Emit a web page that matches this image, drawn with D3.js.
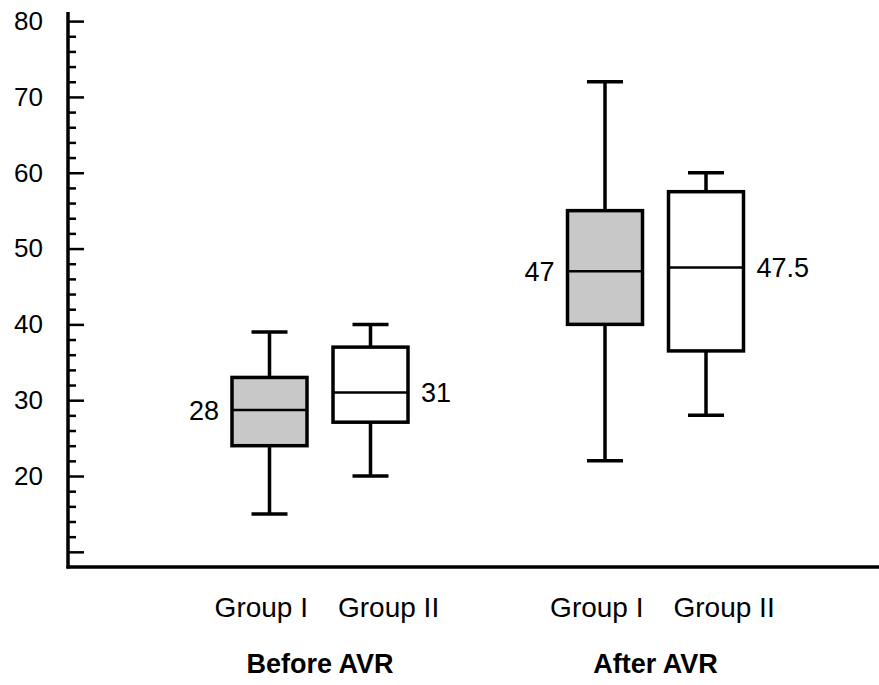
<!DOCTYPE html>
<meta charset="utf-8">
<script src="https://d3js.org/d3.v7.min.js"></script>
<style>
body { margin: 0; background: white; }
text { font-family: "Liberation Sans", Arial, Helvetica, sans-serif; fill: #000; }
</style>
<div id="my_dataviz"></div>
<script>

// data
var periods = ["Before AVR", "After AVR"];
var groups = ["Group I", "Group II"];
var boxPeriod = ["Before AVR", "Before AVR", "After AVR", "After AVR"];
var boxGroup = ["Group I", "Group II", "Group I", "Group II"];
var minVals = [15, 20, 22, 28];
var q1Vals = [24, 27.1, 40, 36.5];
var medianVals = [28.7, 31, 47, 47.5];
var q3Vals = [33, 37, 55, 57.5];
var maxVals = [39, 40, 72, 60];
var medianLabels = ["28", "31", "47", "47.5"];
var boxFill = ["#c8c8c8", "#ffffff", "#c8c8c8", "#ffffff"];

var majorTicks = [10, 20, 30, 40, 50, 60, 70, 80];
var tickLabels = ["", "20", "30", "40", "50", "60", "70", "80"];
var minorTicks = [12, 14, 16, 18, 22, 24, 26, 28, 32, 34, 36, 38, 42, 44, 46, 48,
                  52, 54, 56, 58, 62, 64, 66, 68, 72, 74, 76, 78];

var boxes = boxPeriod.map(function(p, i) {
  return {period: p, group: boxGroup[i], min: minVals[i], q1: q1Vals[i],
          median: medianVals[i], q3: q3Vals[i], max: maxVals[i],
          label: medianLabels[i], fill: boxFill[i]};
});

var W = 879, H = 685;
var axisX = 68;

var svg = d3.select("#my_dataviz")
  .append("svg")
    .attr("width", W)
    .attr("height", H);

var y = d3.scaleLinear()
  .domain([8, 81.2])
  .range([567, 12]);

var periodX = d3.scalePoint()
  .domain(periods)
  .range([320, 655.5]);

var groupX = d3.scalePoint()
  .domain(groups)
  .range([-50.5, 50.5]);

var boxW = 75, capW = 36;

// Y axis: major ticks with labels, minor ticks, all pointing inward
var yAxis = svg.append("g")
  .attr("transform", "translate(" + axisX + ",0)")
  .call(d3.axisLeft(y)
    .tickValues(majorTicks)
    .tickFormat(function(d, i) { return tickLabels[i]; })
    .tickSizeInner(-16)
    .tickSizeOuter(0)
    .tickPadding(25));
yAxis.select(".domain").remove();
yAxis.selectAll(".tick line").attr("stroke", "#000").attr("stroke-width", 2.5);
yAxis.selectAll(".tick text")
  .style("font-size", "26px")
  .attr("fill", "#000");

var yMinor = svg.append("g")
  .attr("transform", "translate(" + axisX + ",0)")
  .call(d3.axisLeft(y)
    .tickValues(minorTicks)
    .tickFormat("")
    .tickSizeInner(-8)
    .tickSizeOuter(0));
yMinor.select(".domain").remove();
yMinor.selectAll(".tick line").attr("stroke", "#000").attr("stroke-width", 2.5);

// axis lines
svg.append("line")
  .attr("x1", axisX).attr("x2", axisX)
  .attr("y1", y(81.2)).attr("y2", y(8) + 1.5)
  .attr("stroke", "#000").attr("stroke-width", 3.5);
svg.append("line")
  .attr("x1", axisX - 1.5).attr("x2", W)
  .attr("y1", y(8)).attr("y2", y(8))
  .attr("stroke", "#000").attr("stroke-width", 3.5);

// boxes
var g = svg.append("g")
  .selectAll("g")
  .data(boxes)
  .enter()
  .append("g")
    .attr("transform", function(d) {
      return "translate(" + (periodX(d.period) + groupX(d.group)) + ",0)";
    });

// whiskers
g.append("line")
  .attr("x1", 0).attr("x2", 0)
  .attr("y1", function(d) { return y(d.max); })
  .attr("y2", function(d) { return y(d.min); })
  .attr("stroke", "#000").attr("stroke-width", 3.5);
g.append("line")
  .attr("x1", -capW / 2).attr("x2", capW / 2)
  .attr("y1", function(d) { return y(d.max); })
  .attr("y2", function(d) { return y(d.max); })
  .attr("stroke", "#000").attr("stroke-width", 3.5);
g.append("line")
  .attr("x1", -capW / 2).attr("x2", capW / 2)
  .attr("y1", function(d) { return y(d.min); })
  .attr("y2", function(d) { return y(d.min); })
  .attr("stroke", "#000").attr("stroke-width", 3.5);

g.append("rect")
  .attr("x", -boxW / 2)
  .attr("width", boxW)
  .attr("y", function(d) { return y(d.q3); })
  .attr("height", function(d) { return y(d.q1) - y(d.q3); })
  .attr("fill", function(d) { return d.fill; })
  .attr("stroke", "#000")
  .attr("stroke-width", 3.5);

g.append("line")
  .attr("x1", -boxW / 2).attr("x2", boxW / 2)
  .attr("y1", function(d) { return y(d.median); })
  .attr("y2", function(d) { return y(d.median); })
  .attr("stroke", "#000").attr("stroke-width", 2.5);

// median labels: left of Group I, right of Group II
g.append("text")
  .attr("x", function(d) { return d.group === "Group I" ? -boxW / 2 - 13 : boxW / 2 + 13; })
  .attr("y", function(d) { return y(d.median); })
  .attr("dy", "0.36em")
  .attr("text-anchor", function(d) { return d.group === "Group I" ? "end" : "start"; })
  .style("font-size", "27px")
  .text(function(d) { return d.label; });

// group labels
var cat = svg.append("g")
  .selectAll("g")
  .data(periods)
  .enter()
  .append("g")
    .attr("transform", function(d) { return "translate(" + periodX(d) + ",0)"; });

cat.append("text")
  .attr("x", -12).attr("y", 617)
  .attr("text-anchor", "end")
  .style("font-size", "28px")
  .text(groups[0]);
cat.append("text")
  .attr("x", 18).attr("y", 617)
  .attr("text-anchor", "start")
  .style("font-size", "28px")
  .text(groups[1]);
cat.append("text")
  .attr("x", 0).attr("y", 673)
  .attr("text-anchor", "middle")
  .style("font-size", "27px")
  .style("font-weight", "bold")
  .text(function(d) { return d; });

</script>
